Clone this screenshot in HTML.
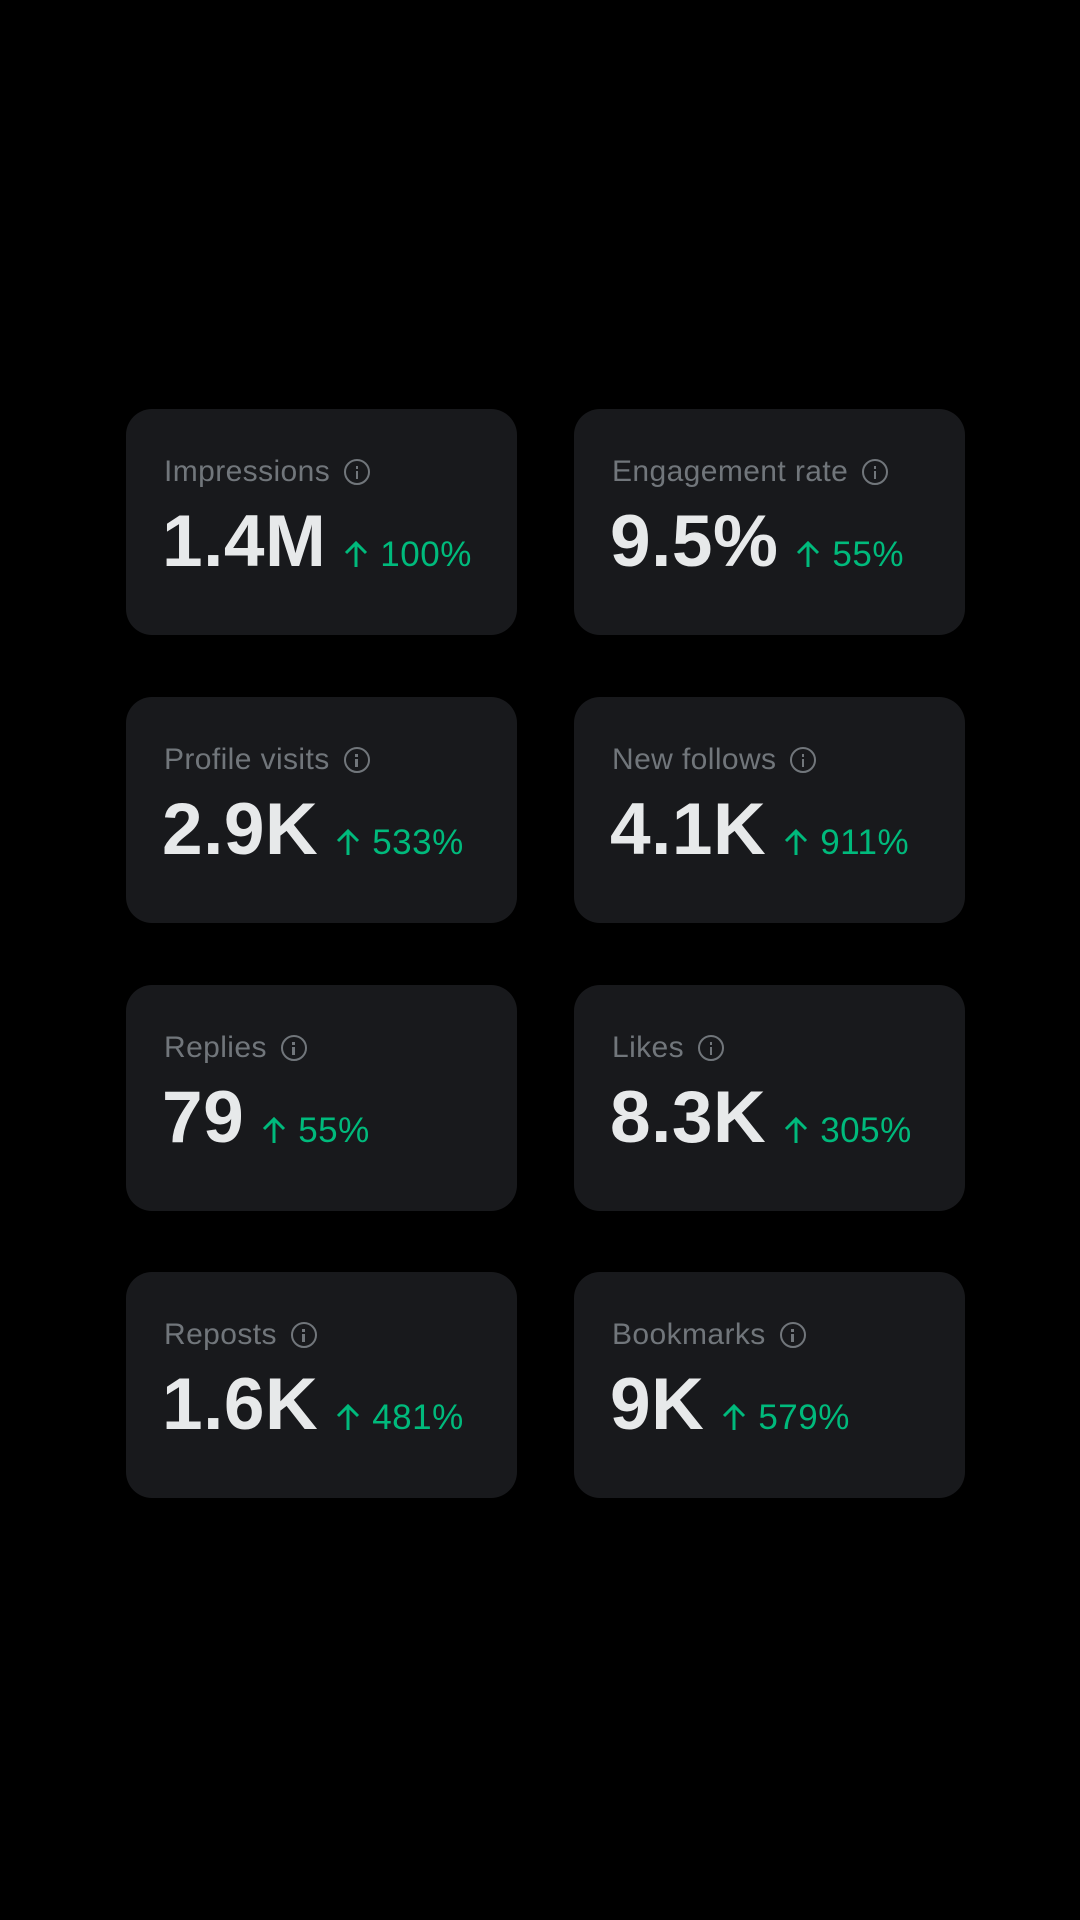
<!DOCTYPE html>
<html><head><meta charset="utf-8"><style>
html,body{margin:0;padding:0;background:#000;width:1080px;height:1920px;overflow:hidden}
body{position:relative;font-family:"Liberation Sans",sans-serif}
.card{position:absolute;width:391px;height:226px;background:#18191c;border-radius:26px}
.lab{position:absolute;left:38px;top:46px;font-size:30px;letter-spacing:0.4px;color:#71767b;white-space:nowrap;display:flex;align-items:center}
.ic{display:inline-block;width:26px;height:26px;border:2.5px solid #71767b;border-radius:50%;margin-left:14px;position:relative;box-sizing:border-box}
.ic:before{content:"";position:absolute;left:9.5px;top:5px;width:2.5px;height:2.5px;background:#71767b}
.ic:after{content:"";position:absolute;left:9.5px;top:9.5px;width:2.5px;height:8px;background:#71767b}
.val{position:absolute;left:36px;top:91px;white-space:nowrap;display:flex;align-items:baseline}
.big{font-size:73px;font-weight:bold;color:#e7e9ea;letter-spacing:0.5px}
.pct{font-size:35px;color:#00ba7c;margin-left:18px;letter-spacing:0.5px}
.pct svg{width:24px;height:28px;margin-right:12px;vertical-align:-2px}
</style></head><body>
<svg width="0" height="0" style="position:absolute"><defs><symbol id="ar" viewBox="0 0 24 28"><path d="M12 27V3M2 13L12 3l10 10" fill="none" stroke="#00ba7c" stroke-width="3"/></symbol></defs></svg>
<div class="card" style="left:126px;top:409px"><div class="lab">Impressions<span class="ic"></span></div><div class="val"><span class="big">1.4M</span><span class="pct"><svg><use href="#ar"/></svg>100%</span></div></div>
<div class="card" style="left:574px;top:409px"><div class="lab">Engagement rate<span class="ic"></span></div><div class="val"><span class="big">9.5%</span><span class="pct"><svg><use href="#ar"/></svg>55%</span></div></div>
<div class="card" style="left:126px;top:697px"><div class="lab">Profile visits<span class="ic"></span></div><div class="val"><span class="big">2.9K</span><span class="pct"><svg><use href="#ar"/></svg>533%</span></div></div>
<div class="card" style="left:574px;top:697px"><div class="lab">New follows<span class="ic"></span></div><div class="val"><span class="big">4.1K</span><span class="pct"><svg><use href="#ar"/></svg>911%</span></div></div>
<div class="card" style="left:126px;top:985px"><div class="lab">Replies<span class="ic"></span></div><div class="val"><span class="big">79</span><span class="pct"><svg><use href="#ar"/></svg>55%</span></div></div>
<div class="card" style="left:574px;top:985px"><div class="lab">Likes<span class="ic"></span></div><div class="val"><span class="big">8.3K</span><span class="pct"><svg><use href="#ar"/></svg>305%</span></div></div>
<div class="card" style="left:126px;top:1272px"><div class="lab">Reposts<span class="ic"></span></div><div class="val"><span class="big">1.6K</span><span class="pct"><svg><use href="#ar"/></svg>481%</span></div></div>
<div class="card" style="left:574px;top:1272px"><div class="lab">Bookmarks<span class="ic"></span></div><div class="val"><span class="big">9K</span><span class="pct"><svg><use href="#ar"/></svg>579%</span></div></div>
</body></html>
